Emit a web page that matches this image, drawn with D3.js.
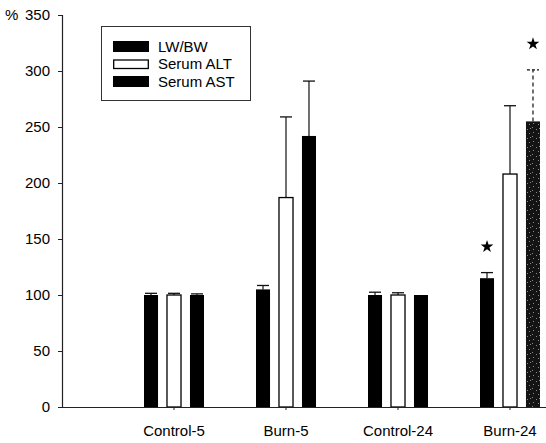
<!DOCTYPE html>
<html>
<head>
<meta charset="utf-8">
<script src="https://cdn.jsdelivr.net/npm/d3@7"></script>
<style>
  body { margin: 0; background: #fff; }
  svg { display: block; font-family: "Liberation Sans", Arial, sans-serif; }
</style>
</head>
<body>
<svg width="546" height="443"></svg>
<script>
const categories = ['Control-5', 'Burn-5', 'Control-24', 'Burn-24'];
const series = ['LW/BW', 'Serum ALT', 'Serum AST'];

// % of control, with SE (upward bar only)
const lwbw = [100, 105, 100, 115];
const lwbwErr = [1.5, 3.5, 2.5, 5];
const alt = [100, 187, 100, 208];
const altErr = [1.5, 72, 2, 61];
const ast = [100, 242, 100, 255];
const astErr = [1, 49, 0, 46];
// significance stars
const lwbwSig = [false, false, false, true];
const astSig = [false, false, false, true];

const yTicks = [0, 50, 100, 150, 200, 250, 300, 350];

const values = [lwbw, alt, ast];
const errs = [lwbwErr, altErr, astErr];
const sigs = [lwbwSig, null, astSig];

const data = [];
categories.forEach((c, i) => {
  series.forEach((s, j) => {
    data.push({cat: c, ser: s, si: j, i: i, v: values[j][i], e: errs[j][i], sig: sigs[j] ? sigs[j][i] : false});
  });
});

const svg = d3.select('svg');
const axisX = 62;
const baseY = 407;

// speckled fill of the last bar (scanned look)
const defs = svg.append('defs');
const pat = defs.append('pattern')
  .attr('id', 'stipple')
  .attr('width', 9).attr('height', 9)
  .attr('patternUnits', 'userSpaceOnUse');
pat.append('rect').attr('width', 9).attr('height', 9).attr('fill', '#141414');
[[1, 1], [5, 3], [2, 6], [7, 7], [8, 2]].forEach(p => {
  pat.append('rect').attr('x', p[0]).attr('y', p[1]).attr('width', 1).attr('height', 1).attr('fill', '#8a8a8a');
});

const y = d3.scaleLinear().domain([0, 350]).range([baseY, 15]);
const x = d3.scaleBand().domain(categories).range([118, 566]);
const xs = d3.scaleBand().domain(series).range([0, 60]).paddingInner(0.39);

const isSpeckled = d => d.si === 2 && d.cat === 'Burn-24';
const fillFor = d => {
  if (d.si === 1) return '#fff';
  if (isSpeckled(d)) return 'url(#stipple)';
  return '#000';
};
const barX = d => x(d.cat) + x.bandwidth() / 2 - 30 + xs(d.ser);

// error bars
const eb = svg.append('g').selectAll('g').data(data.filter(d => d.e > 0)).enter().append('g');
eb.append('line')
  .attr('x1', d => barX(d) + xs.bandwidth() / 2)
  .attr('x2', d => barX(d) + xs.bandwidth() / 2)
  .attr('y1', d => y(d.v))
  .attr('y2', d => y(d.v + d.e))
  .attr('stroke', '#111')
  .attr('stroke-width', 1.2)
  .attr('stroke-dasharray', d => isSpeckled(d) ? '4,3' : null);
eb.append('line')
  .attr('x1', d => barX(d) + 1)
  .attr('x2', d => barX(d) + xs.bandwidth() - 1)
  .attr('y1', d => y(d.v + d.e))
  .attr('y2', d => y(d.v + d.e))
  .attr('stroke', '#111')
  .attr('stroke-width', 1.3)
  .attr('stroke-dasharray', d => isSpeckled(d) ? '3,2' : null);

// bars
svg.append('g').selectAll('rect').data(data).enter().append('rect')
  .attr('x', d => barX(d))
  .attr('y', d => y(d.v))
  .attr('width', xs.bandwidth())
  .attr('height', d => baseY - y(d.v))
  .attr('fill', fillFor)
  .attr('stroke', '#000')
  .attr('stroke-width', d => d.si === 1 ? 1.3 : 0);

// stars
svg.append('g').selectAll('path').data(data.filter(d => d.sig)).enter().append('path')
  .attr('d', d3.symbol().type(d3.symbolStar).size(50))
  .attr('transform', d => `translate(${barX(d) + xs.bandwidth() / 2}, ${y(d.v + d.e) - 26})`)
  .attr('fill', '#000');

// y axis
const gy = svg.append('g')
  .attr('transform', `translate(${axisX},0)`)
  .call(d3.axisLeft(y).tickValues(yTicks).tickSize(4).tickPadding(8));
gy.select('.domain').attr('stroke', '#222').attr('stroke-width', 1.2);
gy.selectAll('.tick line').attr('stroke', '#222');
gy.selectAll('.tick text').attr('font-size', 15).attr('fill', '#000');
gy.attr('font-family', null);

svg.append('text')
  .attr('x', 5).attr('y', y(350))
  .attr('dy', '0.32em')
  .attr('font-size', 15)
  .text('%');

// x axis
const gx = svg.append('g')
  .attr('transform', `translate(0,${baseY})`)
  .call(d3.axisBottom(x).tickSize(3).tickPadding(15).tickSizeOuter(0));
gx.select('.domain').attr('d', `M${axisX},0.5H546`).attr('stroke', '#222').attr('stroke-width', 1.2);
gx.selectAll('.tick line').attr('stroke', '#222');
gx.selectAll('.tick text').attr('font-size', 15).attr('fill', '#000');
gx.attr('font-family', null);

// legend
const lg = svg.append('g');
lg.append('rect')
  .attr('x', 101.5).attr('y', 26.5)
  .attr('width', 149).attr('height', 74)
  .attr('fill', '#fff')
  .attr('stroke', '#333')
  .attr('stroke-width', 1);
const li = lg.selectAll('g.item').data(series).enter().append('g')
  .attr('class', 'item')
  .attr('transform', (d, i) => `translate(113, ${41 + i * 17.5})`);
li.append('rect')
  .attr('x', (d, i) => i === 1 ? 0.7 : 0)
  .attr('y', (d, i) => i === 1 ? 1.5 : 0)
  .attr('width', (d, i) => i === 1 ? 34.6 : 36)
  .attr('height', (d, i) => i === 1 ? 8.5 : 11)
  .attr('fill', (d, i) => i === 1 ? '#fff' : '#000')
  .attr('stroke', '#000')
  .attr('stroke-width', (d, i) => i === 1 ? 1.3 : 0);
li.append('text')
  .attr('x', 45)
  .attr('y', 5.5)
  .attr('dy', '0.35em')
  .attr('font-size', 15)
  .text(d => d);
</script>
</body>
</html>
